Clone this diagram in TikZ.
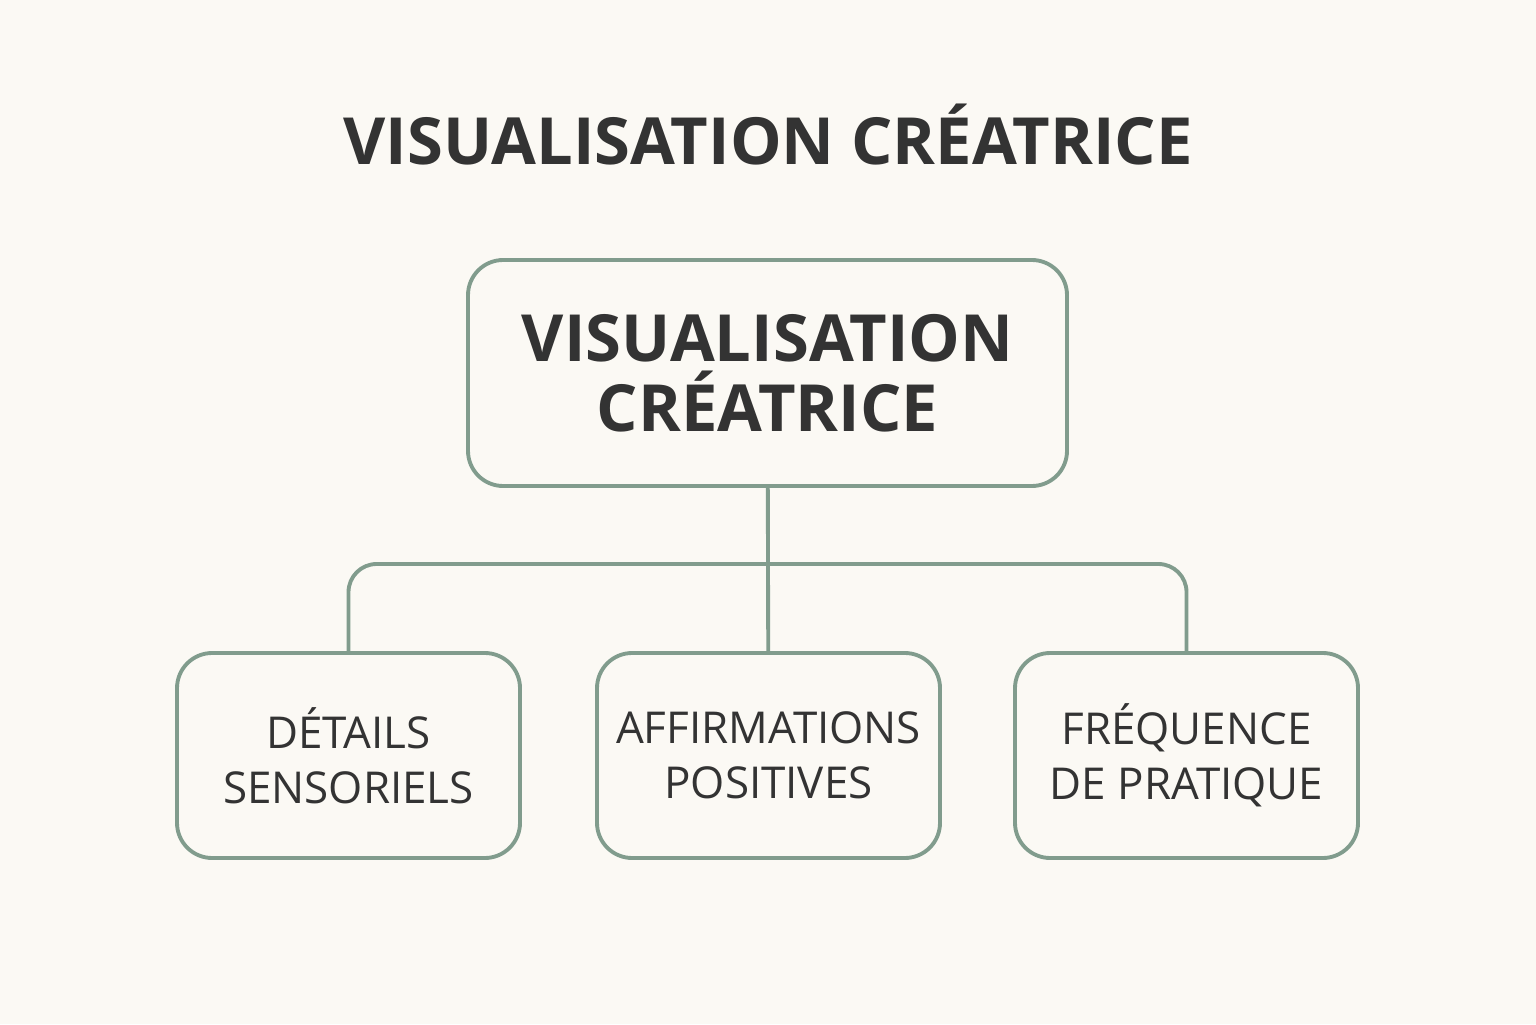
\documentclass[tikz,border=0pt]{standalone}
\usepackage{fontspec}
\setmainfont{Open Sans}
\usepackage{tikz}
\definecolor{bg}{HTML}{FBF9F4}
\definecolor{sage}{HTML}{819C8D}
\definecolor{ink}{HTML}{333333}
\tikzstyle{box} = [draw=sage,line width=1.1pt,rounded corners=10pt,fill=bg,align=center,text=ink,inner sep=0pt]
\tikzstyle{big} = [box,minimum width=5.99cm,minimum height=2.26cm,font=\fontsize{18.5}{20}\selectfont\bfseries]
\tikzstyle{small} = [box,minimum width=3.43cm,minimum height=2.05cm,font=\fontsize{12.5}{15.6}\selectfont]
\tikzstyle{link} = [draw=sage,line width=1.1pt,rounded corners=8pt]

\begin{document}
\begin{tikzpicture}

\fill[bg] (0,0) rectangle (15.36,10.24);
\useasboundingbox (0,0) rectangle (15.36,10.24);

\node[text=ink,font=\fontsize{18.5}{20}\selectfont\bfseries] (title) at (7.68,8.89) {VISUALISATION CRÉATRICE};

\node[big] (v0) at (7.675,6.51) {VISUALISATION\\CRÉATRICE};
\node[small] (v1) at (3.485,2.685) {DÉTAILS\\SENSORIELS};
\node[small] (v2) at (7.685,2.685) {AFFIRMATIONS\\POSITIVES};
\node[small] (v3) at (11.865,2.685) {FRÉQUENCE\\DE PRATIQUE};

\coordinate (bus) at (7.68,4.6);
\draw[link] (v0) -- (v2);
\draw[link] (v1) |- (bus) -| (v3);

\end{tikzpicture}
\end{document}
